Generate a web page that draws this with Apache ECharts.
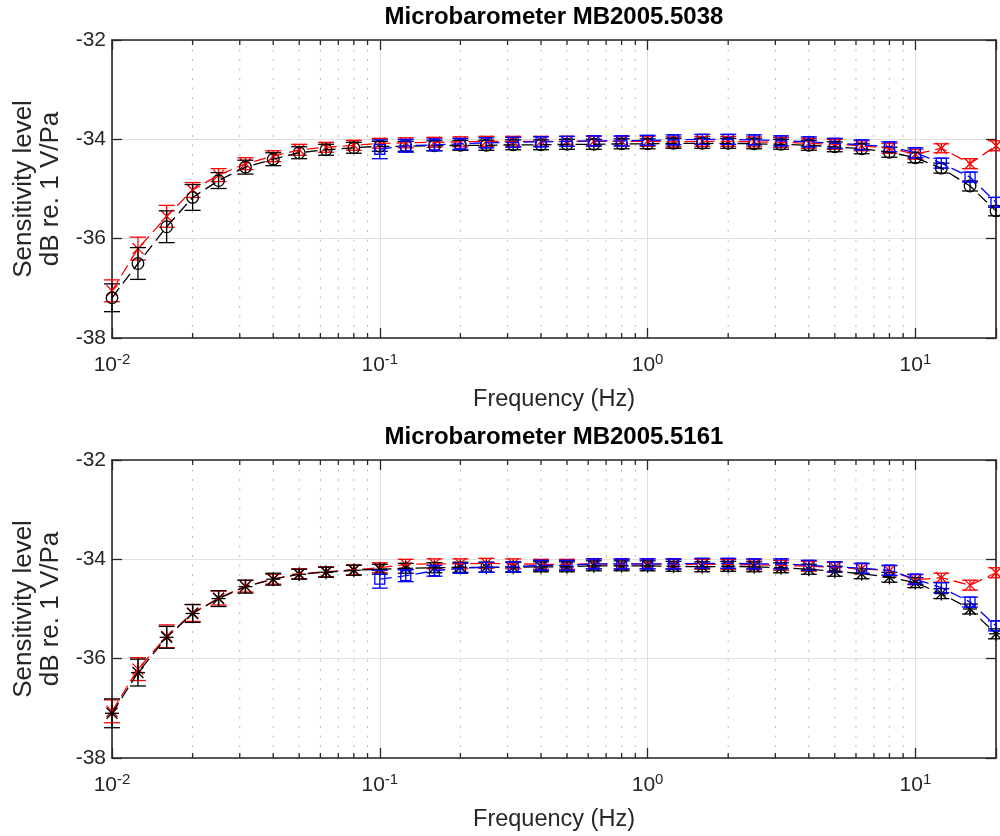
<!DOCTYPE html>
<html>
<head>
<meta charset="utf-8">
<script src="https://cdn.jsdelivr.net/npm/echarts@6/dist/echarts.min.js"></script>
<style>html,body{margin:0;padding:0;background:#fff}#c{width:1000px;height:836px}</style>
</head>
<body>
<div id="c"></div>
<script>
// ---- data ----
const titles = ['Microbarometer MB2005.5038', 'Microbarometer MB2005.5161'];
const xName = 'Frequency (Hz)';
const yName = 'Sensitivity level\ndB re. 1 V/Pa';
const yTicks = [-38, -36, -34, -32];

const freq = [0.01,0.0125,0.016,0.02,0.025,0.0315,0.04,0.05,0.063,0.08,
              0.1,0.125,0.16,0.2,0.25,0.315,0.4,0.5,0.63,0.8,
              1,1.25,1.6,2,2.5,3.15,4,5,6.3,8,
              10,12.5,16,20];
const freqBlue = [0.1,0.125,0.16,0.2,0.25,0.315,0.4,0.5,0.63,0.8,
                  1,1.25,1.6,2,2.5,3.15,4,5,6.3,8,
                  10,12.5,16,20];

// top panel (MB2005.5038)
const topBlack = [-37.19,-36.50,-35.76,-35.17,-34.83,-34.56,-34.40,-34.27,-34.21,-34.17,
                  -34.14,-34.14,-34.13,-34.12,-34.12,-34.11,-34.11,-34.10,-34.10,-34.09,
                  -34.09,-34.08,-34.08,-34.08,-34.09,-34.10,-34.12,-34.15,-34.19,-34.26,
                  -34.37,-34.58,-34.94,-35.44];
const topBlackErr = [0.28,0.32,0.32,0.26,0.16,0.14,0.13,0.12,0.11,0.11,
                     0.10,0.10,0.10,0.10,0.10,0.10,0.10,0.10,0.10,0.10,
                     0.10,0.10,0.10,0.10,0.10,0.10,0.10,0.10,0.10,0.10,
                     0.10,0.10,0.10,0.10];
const topRed = [-37.05,-36.20,-35.55,-35.02,-34.72,-34.49,-34.34,-34.21,-34.16,-34.12,
                -34.08,-34.07,-34.06,-34.05,-34.04,-34.04,-34.04,-34.04,-34.04,-34.04,
                -34.04,-34.05,-34.04,-34.04,-34.05,-34.06,-34.08,-34.10,-34.13,-34.18,
                -34.30,-34.18,-34.49,-34.13];
const topRedErr = [0.22,0.23,0.22,0.15,0.13,0.12,0.11,0.11,0.10,0.10,
                   0.10,0.10,0.10,0.10,0.10,0.10,0.10,0.10,0.10,0.10,
                   0.10,0.10,0.10,0.10,0.10,0.10,0.10,0.10,0.10,0.10,
                   0.10,0.09,0.10,0.10];
const topBlue = [-34.20,-34.13,-34.11,-34.09,-34.07,-34.06,-34.05,-34.04,-34.03,-34.03,
                 -34.02,-34.01,-34.00,-34.00,-34.01,-34.03,-34.05,-34.08,-34.11,-34.15,
                 -34.27,-34.48,-34.76,-35.27];
const topBlueErr = [0.19,0.13,0.12,0.11,0.10,0.10,0.10,0.10,0.10,0.10,
                    0.10,0.10,0.10,0.10,0.10,0.10,0.10,0.10,0.10,0.10,
                    0.10,0.10,0.10,0.10];

// bottom panel (MB2005.5161)
const botBlack = [-37.10,-36.28,-35.57,-35.09,-34.79,-34.55,-34.40,-34.30,-34.26,-34.22,
                  -34.20,-34.18,-34.17,-34.16,-34.16,-34.16,-34.15,-34.15,-34.13,-34.13,
                  -34.13,-34.14,-34.15,-34.14,-34.15,-34.17,-34.20,-34.24,-34.29,-34.36,
                  -34.47,-34.69,-35.00,-35.50];
const botBlackErr = [0.29,0.27,0.22,0.18,0.16,0.13,0.12,0.10,0.10,0.10,
                     0.10,0.10,0.10,0.10,0.10,0.10,0.10,0.10,0.10,0.10,
                     0.10,0.10,0.10,0.10,0.10,0.10,0.10,0.10,0.10,0.10,
                     0.10,0.10,0.10,0.10];
const botRed = [-37.06,-36.21,-35.55,-35.08,-34.78,-34.54,-34.40,-34.29,-34.25,-34.21,
                -34.17,-34.10,-34.09,-34.09,-34.08,-34.09,-34.10,-34.10,-34.09,-34.10,
                -34.09,-34.10,-34.10,-34.10,-34.11,-34.12,-34.14,-34.16,-34.19,-34.23,
                -34.41,-34.37,-34.52,-34.27];
const botRedErr = [0.23,0.23,0.23,0.17,0.14,0.12,0.10,0.10,0.10,0.10,
                   0.10,0.10,0.10,0.10,0.10,0.10,0.10,0.10,0.10,0.10,
                   0.10,0.10,0.10,0.10,0.10,0.10,0.10,0.10,0.10,0.10,
                   0.10,0.09,0.10,0.10];
const botBlue = [-34.40,-34.33,-34.23,-34.18,-34.16,-34.15,-34.12,-34.12,-34.09,-34.09,
                 -34.09,-34.09,-34.08,-34.08,-34.09,-34.09,-34.12,-34.15,-34.18,-34.22,
                 -34.40,-34.57,-34.86,-35.34];
const botBlueErr = [0.18,0.12,0.11,0.10,0.10,0.10,0.10,0.10,0.10,0.10,
                    0.10,0.10,0.10,0.10,0.10,0.10,0.10,0.10,0.10,0.10,
                    0.10,0.10,0.10,0.10];

// ---- chart ----
const FONT = '"Liberation Sans", Arial, Helvetica, sans-serif';
const AX = '#262626';
const minorTicks = [];
[0.01, 0.1, 1, 10].forEach(d => { for (let m = 2; m <= 9; m++) { const v = +(m * d).toPrecision(3); if (v < 20) minorTicks.push(v); } });

const chart = echarts.init(document.getElementById('c'), null, {renderer: 'canvas'});

const grids = [
  {left: 112, right: 4, top: 40, height: 298},
  {left: 112, right: 4, top: 460, height: 298}
];

function isPow10(v) { const l = Math.log10(v); return Math.abs(l - Math.round(l)) < 1e-6; }

const xAxes = [], yAxes = [];
grids.forEach((g, i) => {
  xAxes.push({
    type: 'log', logBase: 10, gridIndex: i, min: 0.01, max: 20, position: 'bottom',
    name: xName, nameLocation: 'middle', nameGap: 50,
    nameTextStyle: {fontFamily: FONT, fontSize: 23.5, color: AX},
    axisLine: {show: true, lineStyle: {color: AX, width: 1.6}},
    axisTick: {show: true, inside: true, length: 10, lineStyle: {color: AX, width: 1.3}},
    axisLabel: {
      margin: 14, color: AX, fontFamily: FONT,
      formatter: v => isPow10(v) ? '{b|10}{s|' + Math.round(Math.log10(v)) + '}' : '',
      rich: {
        b: {fontSize: 21, fontFamily: FONT, color: AX, verticalAlign: 'bottom', lineHeight: 24},
        s: {fontSize: 15, fontFamily: FONT, color: AX, verticalAlign: 'top', lineHeight: 24}
      }
    },
    splitLine: {show: true, lineStyle: {color: '#dfdfdf', width: 1}}
  });
  xAxes.push({
    type: 'log', logBase: 10, gridIndex: i, min: 0.01, max: 20, position: 'top',
    axisLine: {show: true, lineStyle: {color: AX, width: 1.6}},
    axisTick: {show: true, inside: true, length: 10, lineStyle: {color: AX, width: 1.3}},
    axisLabel: {show: false}, splitLine: {show: false}
  });
  yAxes.push({
    type: 'value', gridIndex: i, min: yTicks[0], max: yTicks[yTicks.length - 1], interval: 2, position: 'left',
    name: yName, nameLocation: 'middle', nameGap: 44, nameRotate: 90,
    nameTextStyle: {fontFamily: FONT, fontSize: 26, color: AX, lineHeight: 27, align: 'center'},
    axisLine: {show: true, lineStyle: {color: AX, width: 1.6}},
    axisTick: {show: true, inside: true, length: 10, lineStyle: {color: AX, width: 1.3}},
    axisLabel: {margin: 6, fontSize: 21, fontFamily: FONT, color: AX},
    splitLine: {show: true, lineStyle: {color: '#dfdfdf', width: 1}}
  });
  yAxes.push({
    type: 'value', gridIndex: i, min: yTicks[0], max: yTicks[yTicks.length - 1], interval: 2, position: 'right',
    axisLine: {show: true, lineStyle: {color: AX, width: 1.6}},
    axisTick: {show: true, inside: true, length: 10, lineStyle: {color: AX, width: 1.3}},
    axisLabel: {show: false}, splitLine: {show: false}
  });
});

function minorRender(params, api) {
  const x = api.value(0);
  const p = api.coord([x, -35]);
  const cs = params.coordSys;
  const top = cs.y, bot = cs.y + cs.height;
  return {type: 'group', children: [
    {type: 'line', shape: {x1: p[0], y1: top, x2: p[0], y2: bot}, style: {stroke: '#b9b9b9', lineWidth: 1, lineDash: [2, 7.5]}},
    {type: 'line', shape: {x1: p[0], y1: bot, x2: p[0], y2: bot - 5}, style: {stroke: AX, lineWidth: 1.3}},
    {type: 'line', shape: {x1: p[0], y1: top, x2: p[0], y2: top + 5}, style: {stroke: AX, lineWidth: 1.3}}
  ]};
}

function markerShapes(kind, cx, cy, color) {
  const st = {stroke: color, fill: null, lineWidth: 1.3};
  const ln = (x1, y1, x2, y2) => ({type: 'line', shape: {x1, y1, x2, y2}, style: st});
  const r = 5.5;
  if (kind === 'circle') return [{type: 'circle', shape: {cx, cy, r: 5.8}, style: {stroke: color, fill: 'none', lineWidth: 1.3}}];
  if (kind === 'square') return [{type: 'rect', shape: {x: cx - 5, y: cy - 5, width: 10, height: 10}, style: {stroke: color, fill: 'none', lineWidth: 1.3}}];
  if (kind === 'x') return [ln(cx - r, cy - r, cx + r, cy + r), ln(cx - r, cy + r, cx + r, cy - r)];
  if (kind === 'star') return [ln(cx - r, cy - r, cx + r, cy + r), ln(cx - r, cy + r, cx + r, cy - r), ln(cx - 7, cy, cx + 7, cy), ln(cx, cy - 7, cx, cy + 7)];
  return [];
}

function errRender(kind, color) {
  return function (params, api) {
    const x = api.value(0), y = api.value(1), e = api.value(2);
    const c = api.coord([x, y]);
    const t = api.coord([x, y + e]);
    const b = api.coord([x, y - e]);
    const hw = 8;
    const st = {stroke: color, lineWidth: 1.3};
    const children = [
      {type: 'line', shape: {x1: c[0], y1: t[1], x2: c[0], y2: b[1]}, style: st},
      {type: 'line', shape: {x1: c[0] - hw, y1: t[1], x2: c[0] + hw, y2: t[1]}, style: st},
      {type: 'line', shape: {x1: c[0] - hw, y1: b[1], x2: c[0] + hw, y2: b[1]}, style: st}
    ].concat(markerShapes(kind, c[0], c[1], color));
    return {type: 'group', children};
  };
}

const series = [];
[0, 1].forEach(i => {
  series.push({
    type: 'custom', xAxisIndex: 2 * i, yAxisIndex: 2 * i, z: 1, silent: true,
    renderItem: minorRender, data: minorTicks.map(v => [v, -35]), encode: {x: 0, y: 1}
  });
});

function addSet(gi, fx, vals, errs, color, kind) {
  series.push({
    type: 'line', xAxisIndex: 2 * gi, yAxisIndex: 2 * gi, z: 3, silent: true,
    data: fx.map((f, k) => [f, vals[k]]), symbol: 'none', showSymbol: false,
    lineStyle: {color, width: 1.3, type: [12, 6]}, clip: true
  });
  series.push({
    type: 'custom', xAxisIndex: 2 * gi, yAxisIndex: 2 * gi, z: 3, silent: true, clip: false,
    renderItem: errRender(kind, color),
    data: fx.map((f, k) => [f, vals[k], errs[k]]), encode: {x: 0, y: 1}
  });
}
addSet(0, freq, topRed, topRedErr, '#ff0000', 'x');
addSet(0, freq, topBlack, topBlackErr, '#000000', 'circle');
addSet(0, freqBlue, topBlue, topBlueErr, '#0000ff', 'square');
addSet(1, freq, botRed, botRedErr, '#ff0000', 'x');
addSet(1, freq, botBlack, botBlackErr, '#000000', 'star');
addSet(1, freqBlue, botBlue, botBlueErr, '#0000ff', 'square');

chart.setOption({
  animation: false,
  backgroundColor: '#ffffff',
  title: [
    {text: titles[0], left: 554, top: 5, textAlign: 'center', padding: 0,
     textStyle: {fontFamily: FONT, fontSize: 24, fontWeight: 'bold', color: '#000'}},
    {text: titles[1], left: 554, top: 425, textAlign: 'center', padding: 0,
     textStyle: {fontFamily: FONT, fontSize: 24, fontWeight: 'bold', color: '#000'}}
  ],
  grid: grids,
  xAxis: xAxes,
  yAxis: yAxes,
  series
});
</script>
</body>
</html>
